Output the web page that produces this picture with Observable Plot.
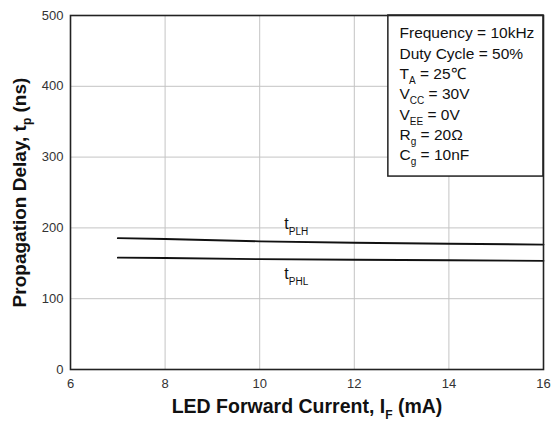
<!DOCTYPE html>
<html>
<head>
<meta charset="utf-8">
<script src="https://cdn.jsdelivr.net/npm/d3@7"></script>
<script src="https://cdn.jsdelivr.net/npm/@observablehq/plot@0.6"></script>
<style>
  html, body { margin: 0; padding: 0; background: #fff; }
</style>
</head>
<body>
<div id="chart"></div>
<script>
// ---- data ----
const currentMA = [7, 8, 10, 12, 14, 16];
const tPLH = [185.5, 184.3, 181, 179, 177.6, 176.5];
const tPHL = [158, 157.5, 155.8, 155, 154.3, 153.5];
const xTicks = [6, 8, 10, 12, 14, 16];
const yTicks = [0, 100, 200, 300, 400, 500];
const xGrid = [8, 10, 12, 14];
const yGrid = [100, 200, 300, 400];
const legendMain = ["Frequency = 10kHz", "Duty Cycle = 50%", "T", "V", "V", "R", "C"];
const legendSub = ["", "", "A", "CC", "EE", "g", "g"];
const legendRest = ["", "", " = 25\u2103", " = 30V", " = 0V", " = 20\u03A9", " = 10nF"];
const curveNames = ["t", "t"];
const curveSubs = ["PLH", "PHL"];
const curveLabelX = [10.52, 10.52];
const curveLabelY = [206, 135.5];

const series = [
  ...currentMA.map((x, i) => ({x, y: tPLH[i], s: "PLH"})),
  ...currentMA.map((x, i) => ({x, y: tPHL[i], s: "PHL"}))
];
const labels = curveNames.map((t, i) => ({t, sub: curveSubs[i], x: curveLabelX[i], y: curveLabelY[i]}));
const legend = legendMain.map((m, i) => ({m, sub: legendSub[i], rest: legendRest[i]}));

const font = "'Liberation Sans', Arial, Helvetica, sans-serif";

const marks = [
  Plot.ruleX(xGrid, {stroke: "#c4c4c4", strokeWidth: 1}),
  Plot.ruleY(yGrid, {stroke: "#c4c4c4", strokeWidth: 1}),
  Plot.line(series, {x: "x", y: "y", z: "s", stroke: "#111", strokeWidth: 1.8}),
  Plot.rect([0], {x1: 12.72, x2: 16, y1: 272.5, y2: 500, fill: "white", stroke: "#222", strokeWidth: 1.5}),
  Plot.frame({stroke: "#222", strokeWidth: 1.6}),
  Plot.text(labels, {x: "x", y: "y", text: d => d.t + d.sub, textAnchor: "start", fontSize: 16, fill: "#111", ariaLabel: () => "curvelabel"}),
  Plot.text([0], {frameAnchor: "left", dx: -51, rotate: -90, textAnchor: "middle", text: () => "Propagation Delay, tp (ns)", fontSize: 19, fontWeight: "bold", fill: "#111", ariaLabel: () => "ylabel"}),
  Plot.text([0], {frameAnchor: "bottom", dy: 43, textAnchor: "middle", text: () => "LED Forward Current, IF (mA)", fontSize: 19.5, fontWeight: "bold", fill: "#111", ariaLabel: () => "xlabel"})
];
legend.forEach((d, i) => {
  marks.push(Plot.text([d], {frameAnchor: "top-left", dx: 329, dy: 18 + 20.3 * i, lineAnchor: "middle", textAnchor: "start", text: d => d.m + d.sub + d.rest, fontSize: 15.5, fill: "#111", ariaLabel: () => "legend"}));
});

const chart = Plot.plot({
  width: 552,
  height: 428,
  marginLeft: 70,
  marginRight: 9,
  marginTop: 15,
  marginBottom: 59,
  style: {fontFamily: font, fontSize: "13px", color: "#333", background: "white"},
  x: {domain: [6, 16], ticks: xTicks, tickSize: 0, tickPadding: 9, label: null},
  y: {domain: [0, 500], ticks: yTicks, tickSize: 0, tickPadding: 7, label: null},
  marks
});
document.getElementById("chart").appendChild(chart);

// subscripts as tspans
function setParts(el, parts, subSize, shift) {
  const t = d3.select(el);
  t.text(null);
  let cur = 0;
  parts.forEach(([s, isSub]) => {
    if (!s) return;
    const ts = t.append("tspan").text(s);
    const target = isSub ? shift : 0;
    if (target !== cur) { ts.attr("dy", target - cur); cur = target; }
    if (isSub) ts.attr("font-size", subSize);
  });
}
const svg = d3.select(chart);
svg.selectAll('text[aria-label="legend"]').each(function(_, i) {
  const d = legend[i];
  setParts(this, [[d.m, false], [d.sub, true], [d.rest, false]], 10, 5);
});
svg.selectAll('text[aria-label="curvelabel"]').each(function(_, i) {
  const d = labels[i];
  setParts(this, [[d.t, false], [d.sub, true]], 10, 6);
});
svg.selectAll('text[aria-label="ylabel"]').each(function() {
  setParts(this, [["Propagation Delay, t", false], ["p", true], [" (ns)", false]], 12, 5);
});
svg.selectAll('text[aria-label="xlabel"]').each(function() {
  setParts(this, [["LED Forward Current, I", false], ["F", true], [" (mA)", false]], 12, 6);
});
</script>
</body>
</html>
